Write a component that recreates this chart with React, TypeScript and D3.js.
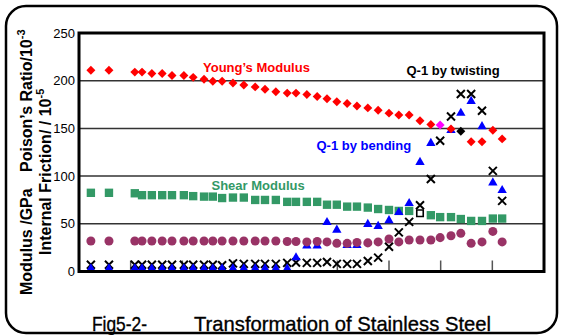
import React from "react";
import * as d3 from "d3";

// x positions of the measurement stages (no labels on the x axis)
const stages = [0.23, 0.58, 1.08, 1.22, 1.41, 1.61, 1.8, 2.03, 2.21, 2.42, 2.59, 2.77, 2.98, 3.19, 3.41, 3.6, 3.81, 4.03, 4.2, 4.41, 4.61, 4.8, 4.99, 5.19, 5.38, 5.59, 5.79, 6.0, 6.19, 6.39, 6.6, 6.81, 6.99, 7.2, 7.39, 7.59, 7.8, 8.01, 8.19];

const youngsModulus = [211, 211, 209, 209, 207.5, 207.5, 205.5, 205.5, 203.5, 201.5, 199.5, 199.5, 197.5, 195.5, 193.5, 191, 188.5, 187, 187, 185.5, 183.5, 181, 178, 176, 173.5, 171.5, 169, 166, 164, 164, 158, 154, 153.5, 149.5, 147, 136, 136, 148, 139];

const shearModulus = [82.5, 82.5, 82, 80, 80, 80, 80, 80, 79, 78.5, 78.5, 77, 77.5, 77.5, 75, 75, 75, 73, 73, 73, 73, 70, 70, 68, 68, 67, 65.5, 64.5, 63.5, 63.5, 61, 59, 57, 57, 55, 53, 53, 55.5, 55.5];

const poissonRatio = [32, 32, 32, 32, 32, 32, 32, 32, 32, 32, 32, 32, 32, 32, 32, 32, 32, 31.5, 31.5, 31, 31.5, 31, 29.5, 29.5, 30.5, 30, 31, 34, 31, 33, 33, 33, 35.5, 37.5, 40, 29.5, 31, 42, 31];

const qBending: (number | null)[] = [3, 3, 3, 3, 3, 3, 3, 3, 3, 3, 3, 3, 3, 3, 3, 3, 3, 3, 14.5, 27, 27, 51.5, 43.5, 27.5, 27.5, 49.5, 47.5, 53.5, 62, 71.5, 114.5, 134.5, null, 148, 166, 178.5, 152, 93, 85];

const qTwisting = [7, 7, 7, 7, 7, 7, 7, 7, 7, 7, 7, 6.5, 8.5, 8, 8, 8, 8, 9, 9.5, 9, 9, 10, 8, 8, 8, 11, 14.5, 26, 41, 52, 69.5, 97, 137, 162.5, 186, 186, 168.5, 105.5, 74];

const yTicks = [0, 50, 100, 150, 200, 250];
const gridValues = [50, 100, 150, 200];
const xTicks = [1, 2, 3, 4, 5, 6, 7, 8];

// special points: magenta Young's point, black Young's point, hollow shear point
const magentaYoungIndex = 32;
const blackYoungIndex = 34;
const hollowShearIndex = 30;

const FONT = "'Liberation Sans', Arial, Helvetica, sans-serif";

export default function App() {
  const x = d3.scaleLinear().domain([0, 9]).range([79, 544]);
  const y = d3.scaleLinear().domain([0, 250]).range([271.5, 33]);

  const diamond = d3.symbol().type(d3.symbolSquare).size(40)()!;
  const square = d3.symbol().type(d3.symbolSquare).size(70)()!;
  const circle = d3.symbol().type(d3.symbolCircle).size(64)()!;
  const triangle = d3.symbol().type(d3.symbolTriangle).size(38)()!;
  const cross = "M-4,-4L4,4M-4,4L4,-4";

  return (
    <svg width={564} height={335} style={{ position: "absolute", left: 0, top: 0, background: "#fff" }} fontFamily={FONT}>
      <rect x={0} y={0} width={564} height={335} fill="#fff" />
      {/* outer rounded frame */}
      <rect x={6} y={6} width={551} height={327} rx={20} ry={20} fill="none" stroke="#000" strokeWidth={2.5} />

      {/* grid lines */}
      {gridValues.map((v) => (
        <line key={v} x1={x(0)} x2={x(9)} y1={y(v)} y2={y(v)} stroke="#333" strokeWidth={1.5} />
      ))}
      {/* x ticks */}
      {xTicks.map((t) => (
        <line key={t} x1={x(t)} x2={x(t)} y1={y(0)} y2={y(0) - 11} stroke="#555" strokeWidth={1.5} />
      ))}

      {/* shear modulus squares */}
      {shearModulus.map((v, i) =>
        i === hollowShearIndex ? null : (
          <path key={"s" + i} d={square} transform={`translate(${x(stages[i])},${y(v)})`} fill="#339966" />
        )
      )}
      <path
        d={d3.symbol().type(d3.symbolSquare).size(42)()!}
        transform={`translate(${x(stages[hollowShearIndex])},${y(shearModulus[hollowShearIndex])})`}
        fill="#fff"
        stroke="#000"
        strokeWidth={1.6}
      />

      {/* Q-1 twisting crosses */}
      {qTwisting.map((v, i) => (
        <path key={"x" + i} d={cross} transform={`translate(${x(stages[i])},${y(v)})`} fill="none" stroke="#000" strokeWidth={2} />
      ))}

      {/* Q-1 bending triangles */}
      {qBending.map((v, i) =>
        v === null ? null : (
          <path key={"t" + i} d={triangle} transform={`translate(${x(stages[i])},${y(v)})`} fill="#0000ff" />
        )
      )}

      {/* Poisson ratio circles */}
      {poissonRatio.map((v, i) => (
        <path key={"c" + i} d={circle} transform={`translate(${x(stages[i])},${y(v)})`} fill="#993366" />
      ))}

      {/* Young's modulus diamonds */}
      {youngsModulus.map((v, i) => (
        <path
          key={"d" + i}
          d={diamond}
          transform={`translate(${x(stages[i])},${y(v)}) rotate(45)`}
          fill={i === magentaYoungIndex ? "#ff00ff" : i === blackYoungIndex ? "#000" : "#ff0000"}
        />
      ))}

      {/* plot frame */}
      <rect x={x(0)} y={y(250)} width={x(9) - x(0)} height={y(0) - y(250)} fill="none" stroke="#000" strokeWidth={3} />

      {/* y tick labels */}
      {yTicks.map((t) => (
        <text key={t} x={75} y={y(t)} dy="0.35em" textAnchor="end" fontSize={13} fill="#000">
          {t}
        </text>
      ))}

      {/* series labels */}
      <text x={203} y={71.5} fontSize={13} fontWeight="bold" fill="#ff0000">Young’s Modulus</text>
      <text x={406.5} y={75} fontSize={13} fontWeight="bold" fill="#000">Q-1 by twisting</text>
      <text x={316.5} y={150} fontSize={13} fontWeight="bold" fill="#0000ff">Q-1 by bending</text>
      <text x={211.5} y={189.5} fontSize={13} fontWeight="bold" fill="#339966">Shear Modulus</text>

      {/* y axis titles */}
      <g transform="translate(32,295) rotate(-90)">
        <text x={0} y={0} fontSize={16} fontWeight="bold" fill="#000">Modulus /GPa</text>
        <text x={123} y={0} fontSize={16} fontWeight="bold" fill="#000">
          Poison’s Ratio/10<tspan fontSize={11} dy={-7}>-3</tspan>
        </text>
      </g>
      <g transform="translate(51,255) rotate(-90)">
        <text x={0} y={0} fontSize={16} fontWeight="bold" fill="#000">
          Internal Friction/ / 10<tspan fontSize={11} dy={-7}>-5</tspan>
        </text>
      </g>

      {/* figure caption */}
      <text x={92} y={331} fontSize={21} fill="#000" stroke="#000" strokeWidth={0.35} textLength={55} lengthAdjust="spacingAndGlyphs">Fig5-2-</text>
      <text x={194} y={331} fontSize={21} fill="#000" stroke="#000" strokeWidth={0.35} textLength={297} lengthAdjust="spacingAndGlyphs">Transformation of Stainless Steel</text>
    </svg>
  );
}
